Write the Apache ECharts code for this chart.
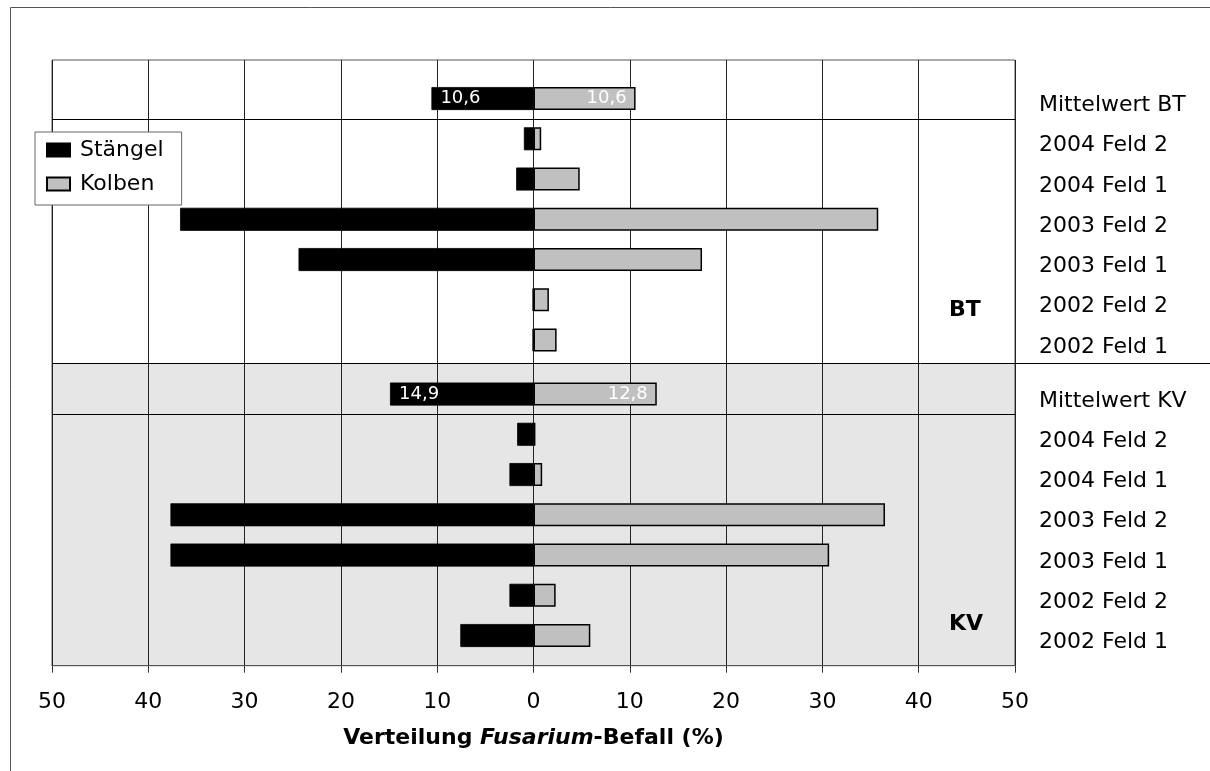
<!DOCTYPE html>
<html>
<head>
<meta charset="utf-8">
<script src="https://cdn.jsdelivr.net/npm/echarts@6/dist/echarts.min.js"></script>
<style>
html,body{margin:0;padding:0;background:#fff;}
#chart{width:1210px;height:771px;}
</style>
</head>
<body>
<div id="chart"></div>
<script>
// ---- data ----
const categoriesBT = ['Mittelwert BT','2004 Feld 2','2004 Feld 1','2003 Feld 2','2003 Feld 1','2002 Feld 2','2002 Feld 1'];
const categoriesKV = ['Mittelwert KV','2004 Feld 2','2004 Feld 1','2003 Feld 2','2003 Feld 1','2002 Feld 2','2002 Feld 1'];
const staengelBT = [10.6, 1.0, 1.8, 36.7, 24.4, 0.1, 0.1];
const kolbenBT   = [10.6, 0.8, 4.8, 35.8, 17.5, 1.6, 2.4];
const staengelKV = [14.9, 1.7, 2.5, 37.7, 37.7, 2.5, 7.6];
const kolbenKV   = [12.8, 0.2, 0.9, 36.5, 30.7, 2.3, 5.9];
const xTicks = [-50,-40,-30,-20,-10,0,10,20,30,40,50];
const groupLabels = ['BT','KV'];
const seriesNames = ['Stängel','Kolben'];

// ---- layout ----
const W = 1210, H = 771;
const L = 52, R = 1015, T = 60, B = 665.7;
const band = 40.25;
const btTop = 78.4, kvTop = 373.9, split = 363.5;
const FONT = 'DejaVu Sans';

const chart = echarts.init(document.getElementById('chart'));
const fmt = v => String(Math.abs(v)).replace('.', ',');

function barSeries(name, data, gi, isNeg, colorFill) {
  return {
    name: name, type: 'bar',
    xAxisIndex: gi, yAxisIndex: gi,
    data: data.map(v => isNeg ? -v : v),
    barWidth: 23, barGap: '-100%',
    itemStyle: {color: colorFill, borderColor: '#000', borderWidth: isNeg ? 0.8 : 1.5},
    label: {
      show: true,
      position: isNeg ? 'insideLeft' : 'insideRight',
      distance: 9,
      color: '#fff', fontFamily: FONT, fontSize: 18,
      formatter: p => p.dataIndex === 0 ? fmt(p.value) : ''
    },
    z: 3
  };
}

const hiddenX = gi => ({type:'value', gridIndex: gi, min: xTicks[0], max: xTicks[xTicks.length-1], interval: 10, show: false});
const catY = (gi, cats) => ({
  type: 'category', gridIndex: gi, data: cats, inverse: true, position: 'right',
  axisLine: {show: false}, axisTick: {show: false},
  axisLabel: {color: '#000', fontFamily: FONT, fontSize: 22, align: 'left', margin: 24, verticalAlign: 'top', lineHeight: 14},
  splitLine: {show: false}
});

const divider = (y, x2) => ({type: 'line', shape: {x1: L, y1: y, x2: x2, y2: y}, style: {stroke: '#000', lineWidth: 1}, z: 5, silent: true});

chart.setOption({
  animation: false,
  backgroundColor: '#fff',
  legend: {
    orient: 'vertical', left: 35, top: 132,
    data: seriesNames,
    backgroundColor: '#fff', borderColor: '#666', borderWidth: 1,
    padding: [7, 18, 10, 11],
    itemWidth: 23, itemHeight: 13, itemGap: 12,
    icon: 'rect',
    textStyle: {fontFamily: FONT, fontSize: 22, color: '#000', padding: [0,0,0,5]},
    z: 10
  },
  grid: [
    {left: L, right: W - R, top: split, bottom: H - B, show: true, backgroundColor: '#e6e6e6', borderWidth: 0},
    {left: L, right: W - R, top: T, bottom: H - B, show: true, backgroundColor: 'transparent', borderColor: '#555', borderWidth: 1},
    {left: L, right: W - R, top: btTop, height: band * 7},
    {left: L, right: W - R, top: kvTop, height: band * 7}
  ],
  xAxis: [
    hiddenX(0),
    {
      type: 'value', gridIndex: 1, min: xTicks[0], max: xTicks[xTicks.length-1], interval: 10,
      axisLine: {show: true, lineStyle: {color: '#555', width: 1}},
      axisTick: {show: true, inside: false, length: 7, lineStyle: {color: '#333'}},
      splitLine: {show: true, lineStyle: {color: '#222', width: 1}},
      axisLabel: {color: '#000', fontFamily: FONT, fontSize: 22, margin: 26, formatter: v => String(Math.abs(v))},
      name: '{b|Verteilung }{i|Fusarium}{b|-Befall (%)}',
      nameLocation: 'middle', nameGap: 62,
      nameTextStyle: {
        rich: {
          b: {fontFamily: FONT, fontSize: 22, fontWeight: 'bold', color: '#000'},
          i: {fontFamily: FONT, fontSize: 22, fontWeight: 'bold', fontStyle: 'italic', color: '#000'}
        }
      }
    },
    hiddenX(2),
    hiddenX(3)
  ],
  yAxis: [
    {type: 'value', gridIndex: 0, show: false},
    {type: 'value', gridIndex: 1, show: false},
    catY(2, categoriesBT),
    catY(3, categoriesKV)
  ],
  series: [
    barSeries(seriesNames[0], staengelBT, 2, true, '#000'),
    barSeries(seriesNames[1], kolbenBT, 2, false, '#c0c0c0'),
    barSeries(seriesNames[0], staengelKV, 3, true, '#000'),
    barSeries(seriesNames[1], kolbenKV, 3, false, '#c0c0c0')
  ],
  graphic: [
    {type: 'rect', shape: {x: 10.5, y: 7.5, width: 1400, height: 1000}, style: {fill: 'none', stroke: '#555', lineWidth: 1}, silent: true, z: -10},
    divider(split, W),
    divider(Math.round(btTop + band) + 0.5, R),
    divider(Math.round(kvTop + band) + 0.5, R),
    {type: 'text', left: 949, top: 299, style: {text: groupLabels[0], fontFamily: FONT, fontSize: 22, fontWeight: 'bold', fill: '#000'}, z: 5},
    {type: 'text', left: 949, top: 613, style: {text: groupLabels[1], fontFamily: FONT, fontSize: 22, fontWeight: 'bold', fill: '#000'}, z: 5}
  ]
});
</script>
</body>
</html>
